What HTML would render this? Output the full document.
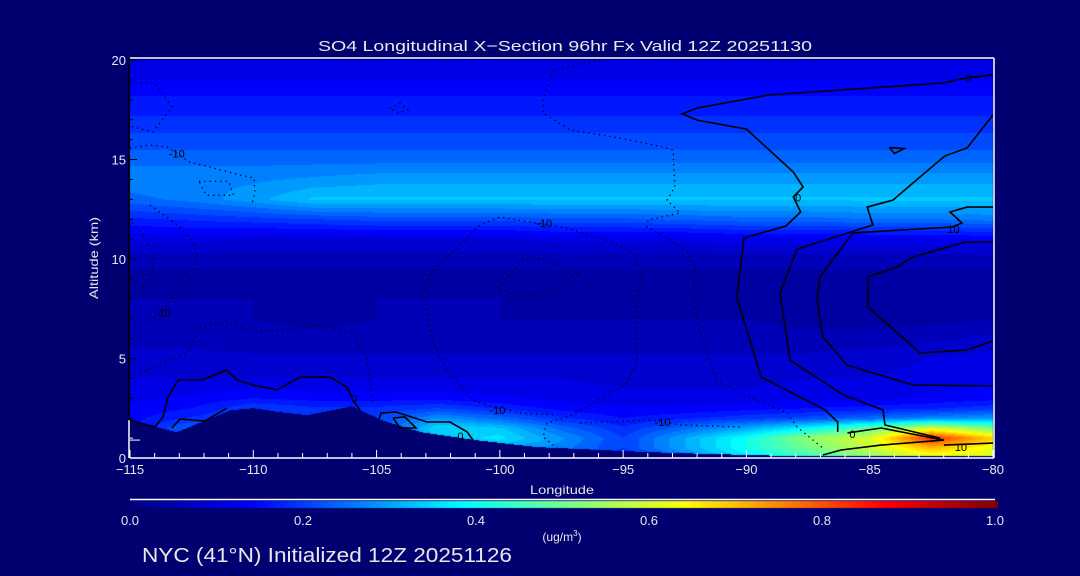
<!DOCTYPE html>
<html><head><meta charset="utf-8">
<style>
html,body{margin:0;padding:0;background:#000070;}
#wrap{position:relative;width:1080px;height:576px;overflow:hidden;background:#000070;font-family:"Liberation Sans",sans-serif;}
canvas,svg{position:absolute;left:0;top:0;}
</style></head>
<body>
<div id="wrap">
<canvas id="field" width="1080" height="576"></canvas>
<svg id="ov" width="1080" height="576"></svg>
</div>
<script>
// ---- data ----
const lons = [-115,-112.5,-110,-107.5,-105,-102.5,-100,-97.5,-95,-92.5,-90,-87.5,-85,-82.5,-80];
const alts = [0,0.5,1,1.5,2,2.5,3,4,5,6,7,8,9,10,11,12,13,14,15,16,17,18,19,20];
const row0  = [0.1,0.1,0.1,0.1,0.1,0.2,0.22,0.18,0.15,0.25,0.36,0.43,0.52,0.6,0.6];
const row05 = [0.1,0.15,0.15,0.15,0.15,0.28,0.3,0.26,0.2,0.3,0.4,0.5,0.58,0.7,0.62];
const row1  = [0.12,0.22,0.18,0.15,0.18,0.33,0.36,0.28,0.2,0.3,0.4,0.53,0.6,0.84,0.68];
const row15 = [0.14,0.24,0.2,0.18,0.2,0.35,0.33,0.24,0.18,0.24,0.3,0.38,0.48,0.6,0.5];
const row2  = [0.14,0.18,0.2,0.18,0.2,0.28,0.24,0.18,0.15,0.17,0.19,0.21,0.24,0.27,0.29];
const row25 = [0.13,0.15,0.2,0.18,0.18,0.2,0.17,0.14,0.13,0.13,0.14,0.15,0.16,0.17,0.19];
const row3  = [0.12,0.13,0.15,0.14,0.14,0.14,0.13,0.12,0.11,0.11,0.11,0.12,0.12,0.13,0.14];
const row4  = [0.1,0.1,0.1,0.1,0.1,0.1,0.1,0.1,0.09,0.09,0.09,0.1,0.1,0.11,0.12];
const row5  = [0.08,0.08,0.08,0.08,0.08,0.08,0.08,0.08,0.08,0.08,0.08,0.08,0.09,0.1,0.11];
const row6  = [0.07,0.07,0.06,0.06,0.06,0.06,0.06,0.06,0.06,0.06,0.06,0.06,0.06,0.07,0.08];
const row7  = [0.06,0.06,0.05,0.04,0.05,0.05,0.05,0.05,0.05,0.05,0.05,0.04,0.04,0.04,0.05];
const row8  = [0.05,0.05,0.05,0.05,0.05,0.05,0.05,0.04,0.04,0.04,0.04,0.03,0.03,0.03,0.03];
const row9  = [0.04,0.04,0.04,0.04,0.04,0.04,0.04,0.04,0.04,0.04,0.04,0.04,0.04,0.04,0.04];
const row10 = [0.06,0.06,0.06,0.06,0.06,0.06,0.06,0.06,0.06,0.06,0.06,0.06,0.06,0.06,0.06];
const row11 = [0.11,0.11,0.1,0.1,0.1,0.1,0.1,0.11,0.11,0.11,0.12,0.12,0.12,0.12,0.13];
const row12 = [0.17,0.18,0.19,0.2,0.21,0.21,0.21,0.22,0.22,0.23,0.24,0.24,0.25,0.25,0.26];
const row13 = [0.24,0.26,0.29,0.33,0.33,0.33,0.33,0.33,0.33,0.33,0.33,0.33,0.33,0.33,0.33];
const row14 = [0.27,0.27,0.27,0.28,0.29,0.29,0.29,0.29,0.29,0.29,0.29,0.29,0.29,0.29,0.29];
const row15k= [0.24,0.24,0.24,0.24,0.24,0.24,0.24,0.24,0.24,0.24,0.24,0.24,0.24,0.24,0.24];
const row16 = [0.21,0.21,0.21,0.21,0.21,0.21,0.21,0.21,0.21,0.21,0.21,0.21,0.21,0.21,0.21];
const row17 = [0.18,0.18,0.18,0.18,0.18,0.18,0.18,0.18,0.18,0.18,0.18,0.18,0.18,0.18,0.18];
const row18 = [0.155,0.155,0.155,0.155,0.155,0.155,0.155,0.155,0.155,0.155,0.155,0.155,0.155,0.155,0.155];
const row19 = [0.125,0.125,0.125,0.125,0.125,0.125,0.125,0.125,0.125,0.125,0.125,0.125,0.125,0.125,0.125];
const row20 = [0.1,0.1,0.1,0.1,0.1,0.1,0.1,0.1,0.1,0.1,0.1,0.1,0.1,0.1,0.1];
const fieldRows = [row0,row05,row1,row15,row2,row25,row3,row4,row5,row6,row7,row8,row9,row10,row11,row12,row13,row14,row15k,row16,row17,row18,row19,row20];

const terrainLon = [-115,-113.9,-113.1,-110.9,-110,-108.9,-107.8,-106,-104.8,-103.2,-101,-98.5,-95,-92.9,-88.3,-80];
const terrainAlt = [1.9,1.55,1.3,2.4,2.5,2.3,2.15,2.6,1.9,1.3,0.9,0.55,0.35,0.25,0.1,0.1];

const xTicks = [-115,-110,-105,-100,-95,-90,-85,-80];
const yTicks = [0,5,10,15,20];
const cbTicks = [0.0,0.2,0.4,0.6,0.8,1.0];

// contour lines [lon,alt]
const solid0Top = [[-80,19.25],[-81.1,19.1],[-82,18.85],[-89.1,18.24],[-92,17.59],[-92.6,17.29],[-92,16.98],[-90,16.53],[-88.1,14.37],[-87.7,13.62],[-88.1,13.12],[-87.8,12.36],[-88.4,11.66],[-90.1,11.06],[-90.2,9.95],[-90.4,8.09],[-89.4,4.07],[-86.8,2.41],[-86.3,1.81],[-86.3,1.31]];
const solid10a = [[-80,17.24],[-81.05,15.58],[-81.95,15.18],[-82.96,14.12],[-84.06,12.96],[-85.1,12.61],[-84.87,11.71],[-87.95,10.5],[-88.64,8.29],[-88.23,4.92],[-86.08,3.17],[-84.46,2.41],[-84.38,1.66],[-82.15,1.0]];
const solid10b = [[-80,12.61],[-81.05,12.61],[-81.74,12.36],[-81.26,11.81],[-81.66,11.61],[-85.68,11.31],[-87.02,9.1],[-87.14,7.94],[-86.9,6.08],[-85.92,4.67],[-83.25,3.67],[-80,3.62]];
const solid20 = [[-80,10.85],[-81.14,10.85],[-83.24,10.1],[-83.89,9.6],[-85.07,9.1],[-85.07,7.59],[-82.96,5.28],[-81.05,5.43],[-80,5.88]];
const solidLeft = [[-115.05,1.91],[-113.99,1.56],[-113.66,2.06],[-113.46,3.07],[-113.05,3.92],[-112.08,3.92],[-111.07,4.42],[-110.66,3.92],[-110.01,3.67],[-109.04,3.42],[-108.11,4.07],[-106.89,4.07],[-106.2,3.57],[-105.96,2.91],[-105.67,2.41]];
const solidStrip = [[-113.3,1.51],[-112.97,1.96],[-111.96,1.86],[-111.07,2.51]];
const solidMid = [[-104.9,1.9],[-104.82,2.26],[-104.21,2.31],[-102.96,1.81],[-102.02,1.81],[-101.33,1.31],[-101.09,0.9]];
const solidLoop = [[-104.33,2.01],[-103.85,2.06],[-103.4,1.51],[-104.05,1.51],[-104.33,2.01]];
const solidRight0 = [[-85.9,1.26],[-84.54,1.51],[-81.99,0.9],[-84.54,0.65],[-86.16,0.4],[-86.9,0.15]];
const solidRight10 = [[-81.99,0.65],[-80,0.75]];
const solidTri = [[-84.2,15.6],[-83.6,15.55],[-84.0,15.3],[-84.2,15.6]];

const dotA = [[-95.94,20],[-97.84,19.5],[-98.25,17.99],[-98.25,17.34],[-97.16,16.48],[-95.13,16.08],[-93.38,15.63],[-92.98,15.48],[-92.9,13.62],[-93.22,12.96],[-92.69,12.31],[-93.99,11.96],[-94.03,11.61],[-93.1,10.95],[-92.41,10.35],[-92.08,9.6],[-92.17,8.29],[-91.96,6.58],[-91.19,3.92],[-90.26,3.27],[-88.35,2.26],[-87.95,1.56],[-86.9,0.5]];
const dotB = [[-97.84,2.16],[-99.06,2.26],[-100.28,2.56],[-101.09,2.91],[-102.14,4.42],[-102.71,5.78],[-103.12,8.29],[-102.71,9.45],[-101.74,10.55],[-100.81,11.71],[-99.99,12.11],[-99.3,11.96],[-97.28,11.56],[-95.41,10.85],[-94.6,10.3],[-94.24,9.3],[-94.52,7.29],[-94.44,4.92],[-94.84,3.77],[-96.47,2.56],[-97.28,2.06],[-98.09,1.76],[-98.25,1.06],[-97.68,0.5]];
const dotC = [[-96.75,1.76],[-93.79,1.91],[-92.69,1.66],[-90.26,1.56]];
const dotD = [[-100.08,8.54],[-99.06,10.0],[-98.09,10.0],[-96.87,9.3],[-97.68,8.54],[-99.06,8.04],[-100.08,8.54]];
const dotE = [[-115,15.58],[-114.19,15.73],[-113.5,15.63],[-112.57,14.87],[-111.76,14.62],[-110.54,14.22],[-109.97,14.07],[-109.93,13.32],[-110.05,12.81]];
const dotF = [[-114.19,12.71],[-113.17,11.81],[-112.49,10.95],[-112.28,10.3],[-112.44,9.1],[-113.26,8.09],[-113.91,7.09],[-114.88,6.58]];
const dotG = [[-114.92,11.81],[-114.47,11.21],[-113.99,10.1],[-114.19,8.94],[-114.88,8.04]];
const dotH = [[-114.59,4.27],[-112.69,5.28],[-112.16,6.58],[-111.07,6.83],[-110.01,6.33],[-108.92,6.43],[-107.25,6.68],[-105.96,6.28],[-105.39,4.92],[-105.14,2.81]];
const dotI = [[-115,18.84],[-113.99,18.84],[-113.3,17.64],[-114.07,16.38],[-115,16.68]];
const dotJ = [[-104.46,17.59],[-104.05,17.84],[-103.73,17.49],[-104.13,17.34],[-104.46,17.59]];
const dotK = [[-112.2,13.9],[-111.0,13.9],[-110.8,13.2],[-111.9,13.2],[-112.2,13.9]];

const contourLabels = [["0",-81.0,19.1],["0",-87.9,13.1],["10",-81.6,11.5],["10",-81.3,0.55],["0",-85.7,1.2],["-10",-98.2,11.8],["-10",-93.4,1.8],["-10",-100.1,2.4],["0",-101.6,1.1],["0",-105.9,3.0],["-10",-113.1,15.3],["10",-113.6,7.3]];

// ---- scales ----
const X0=130, X1=993, Y0=458, Y1=60;
function xs(lon){return X0+(lon+115)*(X1-X0)/35;}
function ys(alt){return Y0-alt*(Y0-Y1)/20;}

// ---- colormap ----
const cStops=[[0,[0,0,128]],[0.14,[0,0,255]],[0.385,[0,255,255]],[0.64,[255,255,0]],[0.87,[255,0,0]],[1,[128,0,0]]];
function cmap(v){v=Math.max(0,Math.min(1,v));for(let i=1;i<cStops.length;i++){if(v<=cStops[i][0]){const a=cStops[i-1],b=cStops[i];const t=(v-a[0])/(b[0]-a[0]);return [0,1,2].map(k=>Math.round(a[1][k]+(b[1][k]-a[1][k])*t));}}return cStops[cStops.length-1][1];}
function interp1(xa,ya,x){if(x<=xa[0])return ya[0];for(let i=1;i<xa.length;i++){if(x<=xa[i]){const t=(x-xa[i-1])/(xa[i]-xa[i-1]);return ya[i-1]+(ya[i]-ya[i-1])*t;}}return ya[ya.length-1];}
function fieldAt(lon,alt){
  let i=0;while(i<lons.length-2&&lon>lons[i+1])i++;
  let j=0;while(j<alts.length-2&&alt>alts[j+1])j++;
  const tx=Math.max(0,Math.min(1,(lon-lons[i])/(lons[i+1]-lons[i])));
  const ty=Math.max(0,Math.min(1,(alt-alts[j])/(alts[j+1]-alts[j])));
  const a=fieldRows[j][i],b=fieldRows[j][i+1],c=fieldRows[j+1][i],d=fieldRows[j+1][i+1];
  return (a*(1-tx)+b*tx)*(1-ty)+(c*(1-tx)+d*tx)*ty;
}

// ---- draw field ----
const cv=document.getElementById('field');const ctx=cv.getContext('2d');
const W=X1-X0,H=Y0-Y1;const img=ctx.createImageData(W,H);
for(let px=0;px<W;px++){
  const lon=-115+(px+0.5)*35/W;
  const ter=interp1(terrainLon,terrainAlt,lon);
  for(let py=0;py<H;py++){
    const alt=(H-py-0.5)*20/H;
    let col;
    if(alt<ter){col=[0,0,112];}
    else{let v=fieldAt(lon,alt);v=Math.floor(v/0.025)*0.025+0.0125;col=cmap(v);}
    const k=(py*W+px)*4;img.data[k]=col[0];img.data[k+1]=col[1];img.data[k+2]=col[2];img.data[k+3]=255;
  }
}
ctx.putImageData(img,X0,Y1);
// colorbar
for(let px=0;px<868;px++){const c=cmap(px/867);ctx.fillStyle='rgb('+c.join(',')+')';ctx.fillRect(130+px,501,1,7);}

// ---- overlay ----
const NS='http://www.w3.org/2000/svg';const svg=document.getElementById('ov');
function mk(tag,attrs,parent){const e=document.createElementNS(NS,tag);for(const k in attrs)e.setAttribute(k,attrs[k]);(parent||svg).appendChild(e);return e;}
function txt(s,x,y,size,anchor,len,parent){const t=mk('text',{x:x,y:y,'font-size':size,'text-anchor':anchor||'middle',fill:'#e8e8e8','font-family':'Liberation Sans, sans-serif'},parent);if(len){t.setAttribute('textLength',len);t.setAttribute('lengthAdjust','spacingAndGlyphs');}t.textContent=s;return t;}

function line(pts,dotted,name){
  const p=mk('polyline',{points:pts.map(q=>xs(q[0]).toFixed(1)+','+ys(q[1]).toFixed(1)).join(' '),fill:'none',stroke:'#000','stroke-width':dotted?1.3:1.6,'stroke-dasharray':dotted?'1.3 4':'none'});
  
  
}
line(solid0Top,false,'contour-0-upper');
line(solid10a,false,'contour-10-outer');
line(solid10b,false,'contour-10-mid');
line(solid20,false,'contour-20-inner');
line(solidLeft,false,'contour-0-left');
line(solidStrip,false,'contour-0-strip');
line(solidMid,false,'contour-0-mid');
line(solidLoop,false,'contour-0-loop');
line(solidRight0,false,'contour-0-right');
line(solidRight10,false,'contour-10-right');
line(solidTri,false,'contour-small-loop');
line(dotA,true,'contour-neg-a');
line(dotB,true,'contour-neg-b');
line(dotC,true,'contour-neg-c');
line(dotD,true,'contour-neg-d');
line(dotE,true,'contour-neg-e');
line(dotF,true,'contour-neg-f');
line(dotG,true,'contour-neg-g');
line(dotH,true,'contour-neg-h');
line(dotI,true,'contour-neg-i');
line(dotJ,true,'contour-neg-j');
line(dotK,true,'contour-neg-k');
contourLabels.forEach(l=>{
  const t=mk('text',{x:xs(l[1]),y:ys(l[2])+4,'font-size':11,'text-anchor':'middle',fill:'#000','font-family':'Liberation Sans, sans-serif'});
  t.textContent=l[0];
  
  
});

// axes
const ax=mk('g',{});
mk('line',{x1:X0,y1:Y1-2,x2:X1+1,y2:Y1-2,stroke:'#fff','stroke-width':1.5},ax);
mk('line',{x1:X0,y1:Y0,x2:X1+1,y2:Y0,stroke:'#fff','stroke-width':1.5},ax);
mk('line',{x1:X1+1,y1:Y1-2,x2:X1+1,y2:Y0,stroke:'#fff','stroke-width':1.5},ax);
mk('line',{x1:X0-1,y1:Y1-2,x2:X0-1,y2:Y0,stroke:'#000','stroke-width':1.5},ax);
mk('line',{x1:X0-1,y1:ys(1.9),x2:X0-1,y2:Y0,stroke:'#fff','stroke-width':1.5},ax);
mk('line',{x1:X0,y1:ys(0.9),x2:X0+10,y2:ys(0.9),stroke:'#fff','stroke-width':1},ax);
for(let lon=-115;lon<=-80;lon++){const major=xTicks.indexOf(lon)>=0;mk('line',{x1:xs(lon),y1:Y0,x2:xs(lon),y2:Y0-(major?8:5),stroke:'#fff','stroke-width':1},ax);}
for(let a=0;a<=20;a+=1){mk('line',{x1:X0,y1:ys(a),x2:X0+(a%5==0?7:3),y2:ys(a),stroke:a<2?'#fff':'#000','stroke-width':1},ax);}
xTicks.forEach(v=>{const t=txt(String(v).replace('-','\u2212'),xs(v),474,13,'middle');});
yTicks.forEach(v=>{const t=txt(String(v),126,ys(v)+5,13,'end');});
cbTicks.forEach(v=>{const t=txt(v.toFixed(1),130+v*865,525,13,'middle');});
mk('line',{x1:130,y1:499.5,x2:995,y2:499.5,stroke:'#fff','stroke-width':1.5});
</script>
<svg width="1080" height="576" style="position:absolute;left:0;top:0">
<text x="318" y="51" font-size="15" fill="#e8e8e8" font-family="Liberation Sans, sans-serif" textLength="494" lengthAdjust="spacingAndGlyphs">SO4 Longitudinal X−Section 96hr  Fx Valid 12Z 20251130</text>
<text transform="translate(98,258) rotate(-90)" text-anchor="middle" font-size="12" fill="#e8e8e8" font-family="Liberation Sans, sans-serif" textLength="82" lengthAdjust="spacingAndGlyphs">Altitude (km)</text>
<text x="562" y="494" text-anchor="middle" font-size="12" fill="#e8e8e8" font-family="Liberation Sans, sans-serif" textLength="64" lengthAdjust="spacingAndGlyphs">Longitude</text>
<text x="562" y="541" text-anchor="middle" font-size="12" fill="#e8e8e8" font-family="Liberation Sans, sans-serif">(ug/m<tspan font-size="8" dy="-5">3</tspan><tspan dy="5">)</tspan></text>
<text x="142" y="562" font-size="20" fill="#e8e8e8" font-family="Liberation Sans, sans-serif" textLength="370" lengthAdjust="spacingAndGlyphs">NYC (41°N) Initialized 12Z 20251126</text>
</svg>
</body></html>
